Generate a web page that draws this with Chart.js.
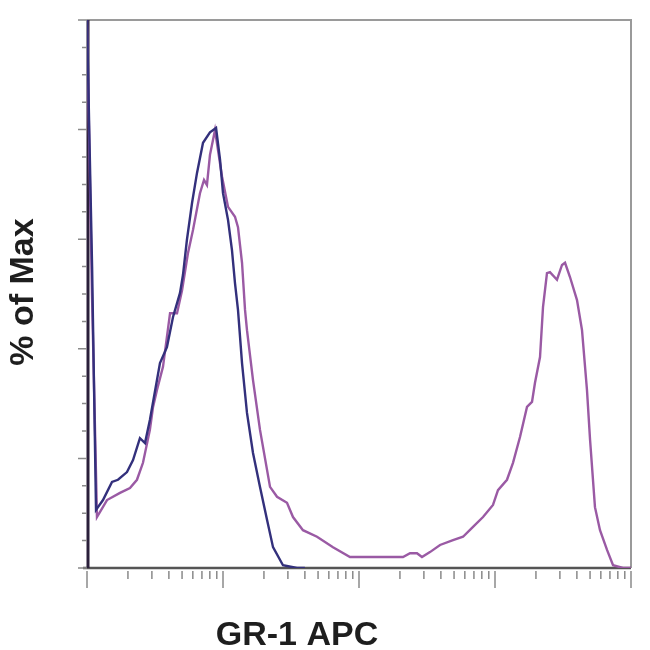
<!DOCTYPE html>
<html>
<head>
<meta charset="utf-8">
<script src="https://cdn.jsdelivr.net/npm/chart.js@4"></script>
<style>
  html, body { margin: 0; padding: 0; background: #fff; }
  #wrap { width: 650px; height: 650px; }
</style>
</head>
<body>
<div id="wrap"><canvas id="c" width="650" height="650"></canvas></div>
<script>
// ---- data ----
const xAxisTitle = "GR-1 APC";
const yAxisTitle = "% of Max";

const controlX = [1, 1.09, 1.165, 1.311, 1.527, 1.690, 1.968, 2.18, 2.45, 2.67, 2.90, 3.27, 3.44, 3.87, 4.29, 4.83, 5.08, 5.43, 5.92, 6.44, 7.13, 8.02, 8.89, 9.51, 10.0, 10.89, 11.64, 12.25, 12.89, 13.80, 15.01, 16.62, 18.71, 21.07, 23.32, 27.61, 34.98, 40];
const controlY = [100, 55, 10.6, 12.4, 15.7, 16.1, 17.5, 19.7, 23.7, 22.8, 27.0, 34.3, 37.4, 40.3, 45.8, 50.2, 53.5, 59.9, 66.6, 72.1, 77.6, 79.5, 80.3, 74.5, 68.4, 63.5, 58.0, 52.0, 47.1, 37.4, 28.3, 21.0, 14.8, 8.8, 3.8, 0.5, 0, 0];

const stainedX = [1, 1.088, 1.184, 1.403, 1.748, 2.07, 2.33, 2.58, 2.90, 3.06, 3.27, 3.62, 4.08, 4.59, 5.0, 5.53, 6.02, 6.77, 7.25, 7.62, 8.02, 8.73, 9.84, 10.89, 12.25, 12.89, 13.80, 14.52, 15.01, 16.62, 18.71, 22.17, 24.96, 29.55, 32.71, 38.73, 49.13, 64.39, 85.86, 120.4, 210.7, 237.3, 266.9, 290.4, 332.5, 394.3, 491.3, 582.1, 689.2, 816.5, 966.7, 1052, 1225, 1356, 1527, 1719, 1871, 1968, 2143, 2254, 2411, 2536, 2856, 3110, 3273, 3559, 4008, 4363, 4745, 5000, 5433, 5916, 6664, 7379, 8730, 10000];
const stainedY = [100, 50, 9.3, 12.4, 13.7, 14.6, 16.1, 19.2, 25.2, 29.4, 32.5, 36.7, 46.5, 46.5, 50.7, 57.5, 61.7, 68.4, 70.8, 69.9, 75.4, 79.9, 71.4, 65.9, 64.1, 62.2, 55.7, 47.1, 43.4, 34.3, 25.2, 14.8, 13.0, 11.9, 9.3, 6.9, 5.7, 3.8, 2.0, 2.0, 2.0, 2.7, 2.7, 2.0, 2.9, 4.2, 5.1, 5.7, 7.5, 9.3, 11.5, 14.2, 16.1, 19.2, 23.9, 29.4, 30.3, 33.8, 38.5, 47.6, 53.8, 54.0, 52.6, 55.3, 55.7, 53.1, 48.9, 43.4, 32.5, 23.4, 11.1, 6.9, 3.3, 0.5, 0, 0];

const xMajorTicks = [1, 10, 100, 1000, 10000];
const xMinorTicks = [2,3,4,5,6,7,8,9, 20,30,40,50,60,70,80,90, 200,300,400,500,600,700,800,900, 2000,3000,4000,5000,6000,7000,8000,9000];
const yMajorTicks = [0, 20, 40, 60, 80, 100];
const yMinorTicks = [5,10,15, 25,30,35, 45,50,55, 65,70,75, 85,90,95];

function pts(xs, ys) { return xs.map((x, i) => ({ x: x, y: ys[i] })); }

const framePlugin = {
  id: 'frame',
  beforeDatasetsDraw(chart) {
    const ctx = chart.ctx;
    const a = chart.chartArea;
    const xs = chart.scales.x, ys = chart.scales.y;
    ctx.save();
    // top & right border
    ctx.strokeStyle = '#9a9a9a';
    ctx.lineWidth = 2;
    ctx.beginPath();
    ctx.moveTo(a.left, a.top); ctx.lineTo(a.right, a.top); ctx.lineTo(a.right, a.bottom);
    ctx.stroke();
    // bottom axis
    ctx.strokeStyle = '#555';
    ctx.lineWidth = 2.5;
    ctx.beginPath();
    ctx.moveTo(a.left - 4, a.bottom); ctx.lineTo(a.right, a.bottom);
    ctx.stroke();
    // left axis
    ctx.strokeStyle = '#2a1f3a';
    ctx.lineWidth = 3;
    ctx.beginPath();
    ctx.moveTo(a.left + 1, a.top); ctx.lineTo(a.left + 1, a.bottom);
    ctx.stroke();
    // x ticks
    ctx.strokeStyle = '#8a8a8a';
    ctx.lineWidth = 1.5;
    ctx.beginPath();
    xMinorTicks.forEach(v => { const p = xs.getPixelForValue(v); ctx.moveTo(p, a.bottom + 3); ctx.lineTo(p, a.bottom + 11); });
    xMajorTicks.forEach(v => { const p = xs.getPixelForValue(v); ctx.moveTo(p, a.bottom + 3); ctx.lineTo(p, a.bottom + 20); });
    ctx.stroke();
    // y ticks
    ctx.beginPath();
    yMinorTicks.forEach(v => { const p = ys.getPixelForValue(v); ctx.moveTo(a.left - 5, p); ctx.lineTo(a.left, p); });
    yMajorTicks.forEach(v => { const p = ys.getPixelForValue(v); ctx.moveTo(a.left - 9, p); ctx.lineTo(a.left, p); });
    ctx.stroke();
    ctx.restore();
  },
  afterDraw(chart) {
    const ctx = chart.ctx;
    const a = chart.chartArea;
    ctx.save();
    ctx.fillStyle = '#1e1e1e';
    ctx.font = 'bold 34px "Liberation Sans", Arial, sans-serif';
    ctx.textAlign = 'center';
    ctx.textBaseline = 'middle';
    ctx.fillText(xAxisTitle, a.left + (a.right - a.left) * 0.386, 636);
    ctx.translate(24, (a.top + a.bottom) / 2 - 2);
    ctx.rotate(-Math.PI / 2);
    ctx.fillText(yAxisTitle, 0, 0);
    ctx.restore();
  }
};

new Chart(document.getElementById('c'), {
  type: 'line',
  data: {
    datasets: [
      {
        label: 'Isotype control',
        data: pts(controlX, controlY),
        borderColor: '#33307c',
        borderWidth: 2.4,
        pointRadius: 0,
        tension: 0,
        fill: false
      },
      {
        label: 'GR-1 APC',
        data: pts(stainedX, stainedY),
        borderColor: '#9a5aa4',
        borderWidth: 2.4,
        pointRadius: 0,
        tension: 0,
        fill: false
      }
    ]
  },
  options: {
    responsive: false,
    animation: false,
    layout: { padding: { left: 0, top: 20, right: 19, bottom: 0 } },
    plugins: { legend: { display: false }, tooltip: { enabled: false } },
    scales: {
      x: {
        type: 'logarithmic',
        min: 1, max: 10000,
        grid: { display: false },
        border: { display: false },
        ticks: { display: false },
        afterFit(s) { s.height = 82; }
      },
      y: {
        type: 'linear',
        min: 0, max: 100,
        grid: { display: false },
        border: { display: false },
        ticks: { display: false },
        afterFit(s) { s.width = 87; }
      }
    }
  },
  plugins: [framePlugin]
});
</script>
</body>
</html>
